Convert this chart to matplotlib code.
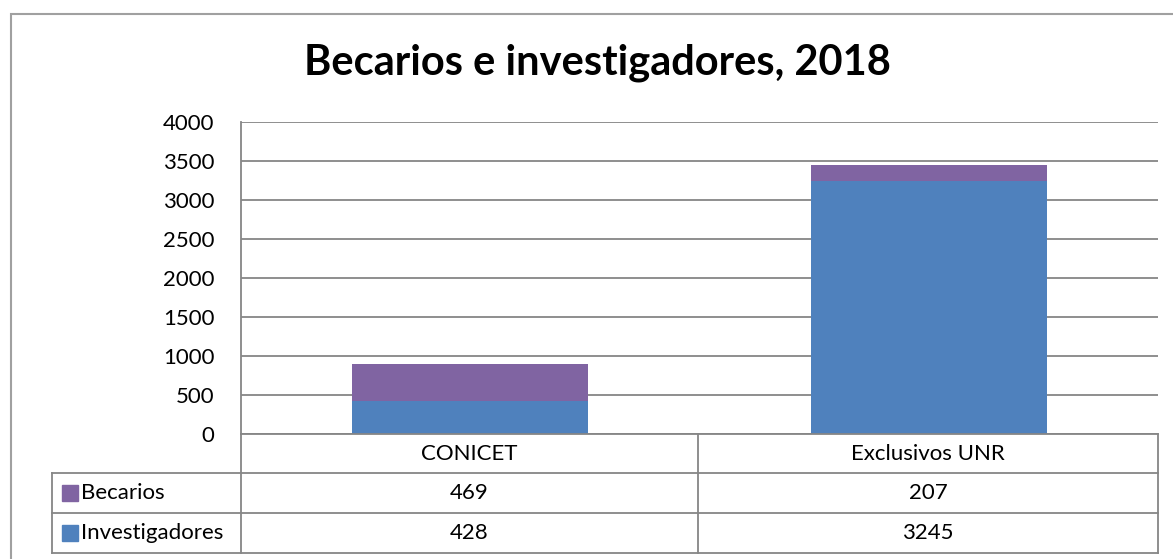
import matplotlib
matplotlib.use('Agg')
import matplotlib.pyplot as plt
from matplotlib.lines import Line2D
from matplotlib.patches import Rectangle
import numpy as np

# Data
categories = ['CONICET', 'Exclusivos UNR']
series_names = ['Becarios', 'Investigadores']
becarios = [469, 207]
investigadores = [428, 3245]
y_ticks = [0, 500, 1000, 1500, 2000, 2500, 3000, 3500, 4000]

BLUE = '#4F81BD'
PURPLE = '#8064A2'
GRID = '#868686'
W, H = 1173, 559
FS = 16

plt.rcParams['font.family'] = ['Lato', 'DejaVu Sans']

fig = plt.figure(figsize=(W / 100, H / 100), dpi=100)


def fbox(x0, y0, x1, y1):
    # pixel box (top-left origin) -> figure rect
    return [x0 / W, 1 - y1 / H, (x1 - x0) / W, (y1 - y0) / H]


# outer chart frame
fig.add_artist(Rectangle((11 / W, 1 - 600 / H), 1200 / W, (600 - 14) / H,
                         transform=fig.transFigure, fill=False,
                         edgecolor='#A0A0A0', linewidth=1.5))

fig.text(597 / W, 1 - 63 / H, 'Becarios e investigadores, 2018',
         ha='center', va='center', fontsize=30, fontweight='bold')

# Main bar area
ax = fig.add_axes(fbox(241, 122, 1158, 434))
x = np.arange(len(categories)) + 0.5
ax.bar(x, investigadores, width=0.515, color=BLUE, zorder=3)
ax.bar(x, becarios, width=0.515, bottom=investigadores, color=PURPLE, zorder=3)
ax.set_xlim(0, len(categories))
ax.set_ylim(0, 4000)
ax.set_yticks(y_ticks)
ax.set_yticklabels([str(t) for t in y_ticks], fontsize=FS)
ax.tick_params(axis='y', length=0, pad=19)
ax.set_xticks([])
ax.grid(True, axis='y', color=GRID, linewidth=1.3, zorder=0)
for s in ['top', 'right', 'bottom']:
    ax.spines[s].set_visible(False)
ax.spines['left'].set_color(GRID)
ax.spines['left'].set_linewidth(1.3)

# Data table below
tx = fig.add_axes(fbox(40, 430, 1165, 558))
tx.set_xlim(40, 1165)
tx.set_ylim(558, 430)
tx.axis('off')

col_edges = [241, 698, 1158]
row_edges = [434, 473, 513, 553]
lw = 1.3


def hline(y, x0, x1):
    tx.add_line(Line2D([x0, x1], [y, y], color=GRID, linewidth=lw))


def vline(xv, y0, y1):
    tx.add_line(Line2D([xv, xv], [y0, y1], color=GRID, linewidth=lw))


hline(row_edges[0], 241, 1158)
for y in row_edges[1:]:
    hline(y, 52, 1158)
vline(52, row_edges[1], row_edges[-1])
for xv in col_edges:
    vline(xv, row_edges[0], row_edges[-1])

# header row
for i, cat in enumerate(categories):
    cx = (col_edges[i] + col_edges[i + 1]) / 2
    tx.text(cx, (row_edges[0] + row_edges[1]) / 2, cat, ha='center',
            va='center', fontsize=FS)

rows = [(series_names[0], becarios, PURPLE),
        (series_names[1], investigadores, BLUE)]
for r, (name, vals, col) in enumerate(rows):
    yc = (row_edges[r + 1] + row_edges[r + 2]) / 2
    tx.add_patch(Rectangle((62, yc - 8), 16, 16, color=col))
    tx.text(81, yc, name, ha='left', va='center', fontsize=FS)
    for i, v in enumerate(vals):
        cx = (col_edges[i] + col_edges[i + 1]) / 2
        tx.text(cx, yc, str(v), ha='center', va='center', fontsize=FS)

fig.savefig('out.png', dpi=100)
